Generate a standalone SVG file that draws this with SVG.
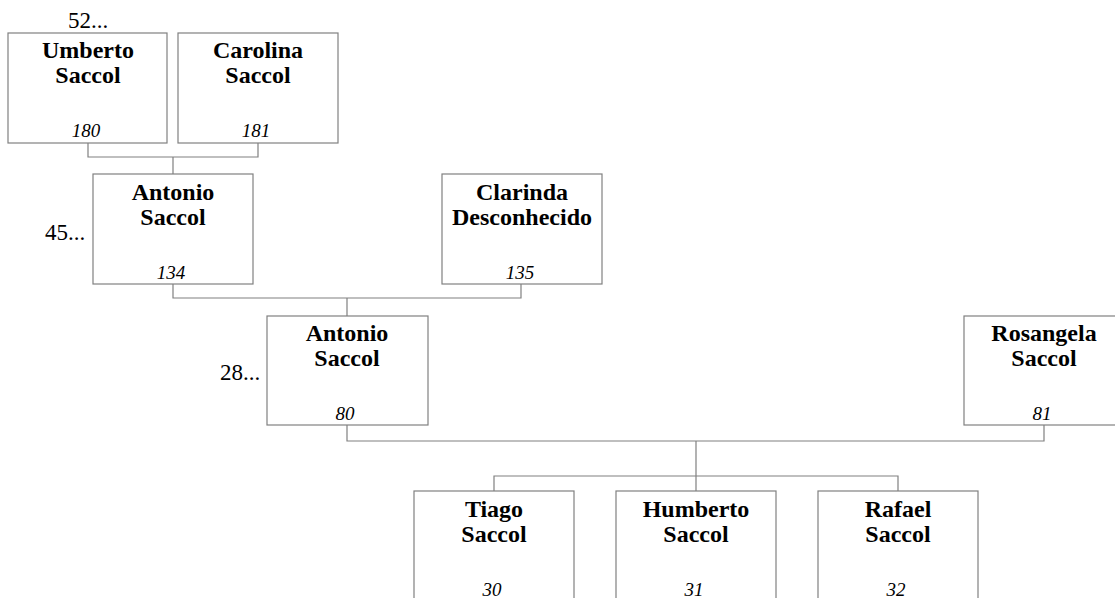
<svg xmlns="http://www.w3.org/2000/svg" width="1115" height="598" viewBox="0 0 1115 598">
<style>
.box{fill:#fff;stroke:#808080;stroke-width:1.2}
.nm{font-family:"Liberation Serif",serif;font-weight:bold;font-size:24px;text-anchor:middle;fill:#000}
.id{font-family:"Liberation Serif",serif;font-style:italic;font-size:19px;text-anchor:middle;fill:#000}
.gen{font-family:"Liberation Serif",serif;font-size:23px;fill:#000}
.ln{fill:none;stroke:#808080;stroke-width:1.2}
</style>
<rect width="1115" height="598" fill="#fff"/>
<g id="connectors">
<path class="ln" d="M88,143V157H258V143M173,157V174"/>
<path class="ln" d="M173,284V298H521V284M347,298V316"/>
<path class="ln" d="M347,425V441H1044V425M696,441V476M494,491V476H898V491M696,476V491"/>
</g>
<text class="gen" x="68" y="28">52...</text>
<text class="gen" x="45" y="240">45...</text>
<text class="gen" x="220" y="380">28...</text>
<g id="n180"><rect class="box" x="8" y="33" width="159" height="110"/><text class="nm" x="88" y="58">Umberto</text><text class="nm" x="88" y="83">Saccol</text><text class="id" x="86" y="137">180</text></g>
<g id="n181"><rect class="box" x="178" y="33" width="160" height="110"/><text class="nm" x="258" y="58">Carolina</text><text class="nm" x="258" y="83">Saccol</text><text class="id" x="256" y="137">181</text></g>
<g id="n134"><rect class="box" x="93" y="174" width="160" height="110"/><text class="nm" x="173" y="200">Antonio</text><text class="nm" x="173" y="225">Saccol</text><text class="id" x="171" y="279">134</text></g>
<g id="n135"><rect class="box" x="442" y="174" width="160" height="110"/><text class="nm" x="522" y="200">Clarinda</text><text class="nm" x="522" y="225">Desconhecido</text><text class="id" x="520" y="279">135</text></g>
<g id="n80"><rect class="box" x="267" y="316" width="161" height="109"/><text class="nm" x="347" y="341">Antonio</text><text class="nm" x="347" y="366">Saccol</text><text class="id" x="345" y="420">80</text></g>
<g id="n81"><rect class="box" x="964" y="316" width="160" height="109"/><text class="nm" x="1044" y="341">Rosangela</text><text class="nm" x="1044" y="366">Saccol</text><text class="id" x="1042" y="420">81</text></g>
<g id="n30"><rect class="box" x="414" y="491" width="160" height="110"/><text class="nm" x="494" y="517">Tiago</text><text class="nm" x="494" y="542">Saccol</text><text class="id" x="492" y="596">30</text></g>
<g id="n31"><rect class="box" x="616" y="491" width="160" height="110"/><text class="nm" x="696" y="517">Humberto</text><text class="nm" x="696" y="542">Saccol</text><text class="id" x="694" y="596">31</text></g>
<g id="n32"><rect class="box" x="818" y="491" width="160" height="110"/><text class="nm" x="898" y="517">Rafael</text><text class="nm" x="898" y="542">Saccol</text><text class="id" x="896" y="596">32</text></g>
</svg>
